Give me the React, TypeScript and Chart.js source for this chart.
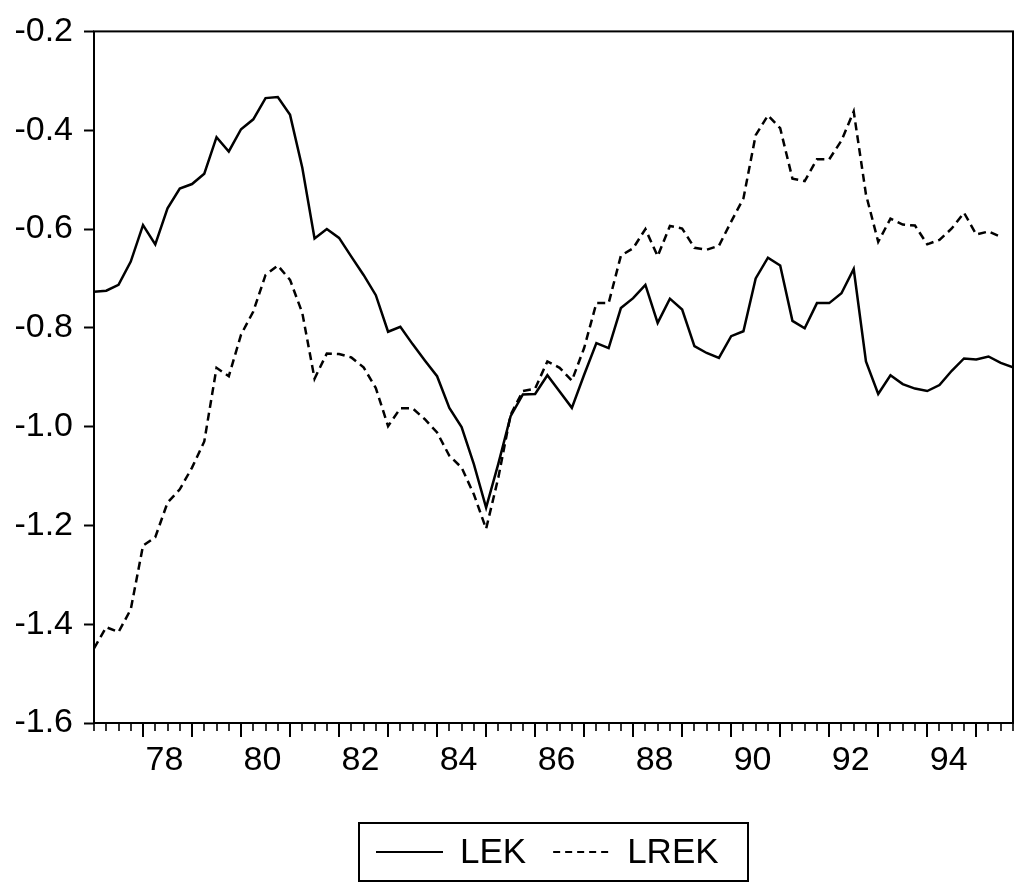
import React, { useEffect, useRef } from 'react';
import { Chart, registerables } from 'chart.js';

Chart.register(...registerables);

// Quarterly observations 1977Q1 .. 1995Q4
const QUARTERS = [
  '1977Q1','1977Q2','1977Q3','1977Q4','1978Q1','1978Q2','1978Q3','1978Q4',
  '1979Q1','1979Q2','1979Q3','1979Q4','1980Q1','1980Q2','1980Q3','1980Q4',
  '1981Q1','1981Q2','1981Q3','1981Q4','1982Q1','1982Q2','1982Q3','1982Q4',
  '1983Q1','1983Q2','1983Q3','1983Q4','1984Q1','1984Q2','1984Q3','1984Q4',
  '1985Q1','1985Q2','1985Q3','1985Q4','1986Q1','1986Q2','1986Q3','1986Q4',
  '1987Q1','1987Q2','1987Q3','1987Q4','1988Q1','1988Q2','1988Q3','1988Q4',
  '1989Q1','1989Q2','1989Q3','1989Q4','1990Q1','1990Q2','1990Q3','1990Q4',
  '1991Q1','1991Q2','1991Q3','1991Q4','1992Q1','1992Q2','1992Q3','1992Q4',
  '1993Q1','1993Q2','1993Q3','1993Q4','1994Q1','1994Q2','1994Q3','1994Q4',
  '1995Q1','1995Q2','1995Q3','1995Q4',
];

const LEK = [
  -0.727, -0.725, -0.713, -0.666, -0.592, -0.631, -0.558, -0.518,
  -0.509, -0.488, -0.414, -0.443, -0.398, -0.378, -0.335, -0.333,
  -0.369, -0.476, -0.619, -0.600, -0.618, -0.656, -0.693, -0.734,
  -0.808, -0.798, -0.833, -0.866, -0.898, -0.962, -1.001, -1.076,
  -1.164, -1.075, -0.979, -0.935, -0.934, -0.896, -0.929, -0.962,
  -0.895, -0.831, -0.841, -0.760, -0.740, -0.713, -0.790, -0.741,
  -0.763, -0.837, -0.851, -0.861, -0.817, -0.807, -0.700, -0.658,
  -0.674, -0.786, -0.801, -0.750, -0.750, -0.730, -0.681, -0.868,
  -0.934, -0.896, -0.914, -0.923, -0.928, -0.916, -0.887, -0.862,
  -0.864, -0.858, -0.871, -0.880,
];

const LREK = [
  -1.449, -1.406, -1.416, -1.370, -1.241, -1.224, -1.154, -1.127,
  -1.083, -1.030, -0.881, -0.898, -0.814, -0.767, -0.693, -0.674,
  -0.703, -0.770, -0.903, -0.852, -0.853, -0.860, -0.880, -0.922,
  -0.999, -0.963, -0.963, -0.985, -1.012, -1.059, -1.083, -1.137,
  -1.207, -1.103, -0.976, -0.928, -0.923, -0.868, -0.881, -0.907,
  -0.841, -0.750, -0.750, -0.654, -0.639, -0.600, -0.655, -0.594,
  -0.599, -0.638, -0.642, -0.634, -0.585, -0.538, -0.410, -0.370,
  -0.396, -0.498, -0.503, -0.459, -0.459, -0.421, -0.362, -0.530,
  -0.626, -0.579, -0.591, -0.593, -0.631, -0.622, -0.599, -0.567,
  -0.611, -0.605, -0.616, null,
];

const YEAR_LABELS = ['78', '80', '82', '84', '86', '88', '90', '92', '94'];
const Y_MIN = -1.6;
const Y_MAX = -0.2;
const Y_STEP = 0.2;

const FONT = '"Liberation Sans", Arial, Helvetica, sans-serif';

const yearIndex = (label: string) => (1900 + Number(label) - 1977) * 4 + 1.75;

const framePlugin = {
  id: 'evFrame',
  afterDraw(chart: any) {
    const { ctx, chartArea: a } = chart;
    const x = chart.scales.x;
    ctx.save();
    ctx.strokeStyle = '#000';
    ctx.lineWidth = 2;
    ctx.setLineDash([]);
    ctx.strokeRect(a.left, a.top, a.right - a.left, a.bottom - a.top);
    // quarter tick marks, longer at each year start
    for (let i = 0; i < QUARTERS.length; i++) {
      const px = Math.round(x.getPixelForValue(i));
      const major = i % 4 === 0 && i > 0;
      ctx.lineWidth = major ? 2 : 1.6;
      ctx.beginPath();
      ctx.moveTo(px, a.bottom);
      ctx.lineTo(px, a.bottom + (major ? 14 : 8));
      ctx.stroke();
    }
    // boxed legend centred under the plot area
    const cx = (a.left + a.right) / 2;
    const boxL = cx - 194.5;
    const boxR = cx + 194.5;
    const boxT = chart.height - 60;
    const boxB = chart.height - 2;
    ctx.lineWidth = 2;
    ctx.strokeRect(boxL, boxT, boxR - boxL, boxB - boxT);
    const yMid = (boxT + boxB) / 2;
    ctx.font = '35px ' + FONT;
    ctx.textBaseline = 'middle';
    ctx.textAlign = 'left';
    ctx.fillStyle = '#000';
    let xx = boxL + 17;
    chart.data.datasets.forEach((ds: any, k: number) => {
      const len = k === 0 ? 67 : 57;
      ctx.lineWidth = 2;
      ctx.setLineDash(k === 0 ? [] : [7, 5]);
      ctx.beginPath();
      ctx.moveTo(xx, yMid);
      ctx.lineTo(xx + len, yMid);
      ctx.stroke();
      ctx.setLineDash([]);
      xx += len + 17;
      ctx.fillText(ds.label, xx, yMid + 1);
      xx += ctx.measureText(ds.label).width + 27;
    });
    ctx.restore();
  },
};

export default function App() {
  const canvasRef = useRef<HTMLCanvasElement | null>(null);

  useEffect(() => {
    const canvas = canvasRef.current;
    if (!canvas) return;
    const chart = new Chart(canvas, {
      type: 'line',
      data: {
        datasets: [
          {
            label: 'LEK',
            data: LEK.map((v, i) => ({ x: i, y: v })),
            borderColor: '#000',
            borderWidth: 2.5,
            pointRadius: 0,
            tension: 0,
            fill: false,
          },
          {
            label: 'LREK',
            data: LREK.map((v, i) => ({ x: i, y: v })),
            borderColor: '#000',
            borderWidth: 2.5,
            borderDash: [8, 5],
            pointRadius: 0,
            tension: 0,
            fill: false,
            spanGaps: false,
          },
        ],
      },
      plugins: [framePlugin],
      options: {
        animation: false,
        responsive: false,
        devicePixelRatio: 1,
        layout: { padding: { top: 29, right: 12, bottom: 0, left: 0 } },
        plugins: {
          legend: { display: false },
          tooltip: { enabled: false },
        },
        scales: {
          x: {
            type: 'linear',
            min: 0,
            max: QUARTERS.length - 1,
            afterFit: (s: any) => { s.height = 160; },
            afterBuildTicks: (s: any) => {
              s.ticks = YEAR_LABELS.map((l) => ({ value: yearIndex(l), label: l }));
            },
            grid: { display: false },
            border: { display: false },
            ticks: {
              autoSkip: false,
              maxRotation: 0,
              padding: 9,
              color: '#000',
              font: { family: FONT, size: 34 },
              callback: (v: any) => {
                const l = YEAR_LABELS.find((t) => Math.abs(yearIndex(t) - Number(v)) < 1e-6);
                return l ?? '';
              },
            },
          },
          y: {
            min: Y_MIN,
            max: Y_MAX,
            afterFit: (s: any) => { s.width = 94; },
            grid: {
              drawOnChartArea: false,
              drawTicks: true,
              tickLength: 10,
              tickWidth: 2,
              tickColor: '#000',
              color: '#000',
            },
            border: { display: false },
            ticks: {
              stepSize: Y_STEP,
              padding: 11,
              color: '#000',
              font: { family: FONT, size: 34 },
              callback: (v: any) => Number(v).toFixed(1),
            },
          },
        },
      },
    });
    return () => chart.destroy();
  }, []);

  return (
    <canvas
      ref={canvasRef}
      width={1025}
      height={883}
      style={{ position: 'fixed', left: 0, top: 0, width: 1025, height: 883, background: '#fff' }}
    />
  );
}
